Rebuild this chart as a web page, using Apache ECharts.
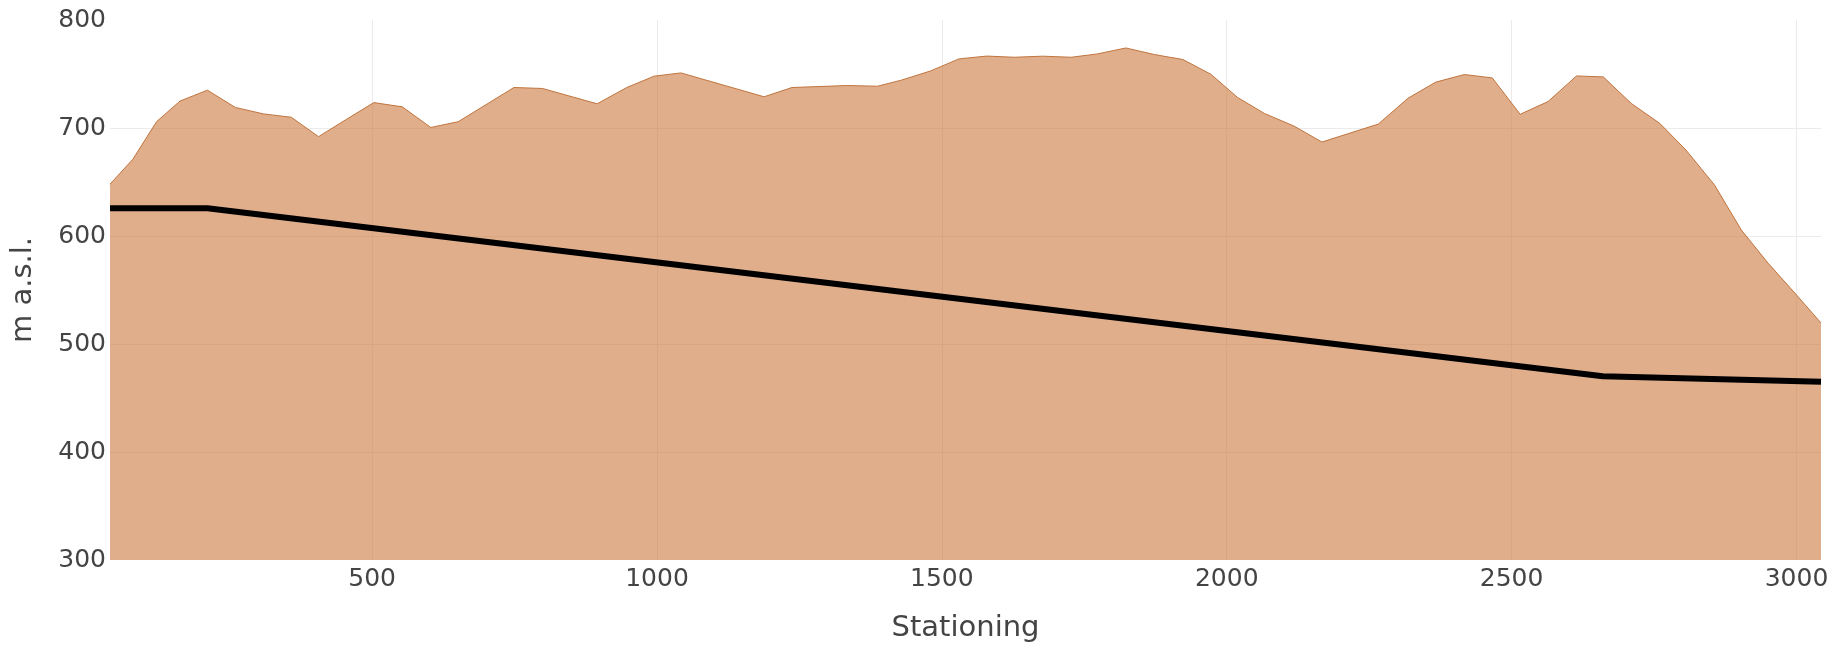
<!DOCTYPE html>
<html>
<head>
<meta charset="utf-8">
<script src="https://cdn.jsdelivr.net/npm/echarts@6/dist/echarts.min.js"></script>
<style>
html,body{margin:0;padding:0;background:#fff;}
#chart{width:1835px;height:648px;}
</style>
</head>
<body>
<div id="chart"></div>
<script>
// Terrain profile (stationing, m a.s.l.)
var terrainStations = [40, 80, 122, 163, 211, 260, 310, 358, 406, 455, 503, 553, 603, 651, 749, 799, 895, 947, 995, 1042, 1188, 1237, 1333, 1387, 1429, 1480, 1530, 1579, 1627, 1677, 1727, 1773, 1823, 1873, 1923, 1972, 2019, 2066, 2118, 2167, 2266, 2318, 2367, 2417, 2466, 2515, 2564, 2614, 2661, 2710, 2760, 2806, 2856, 2903, 2950, 2997, 3043];
var terrainElev = [648, 671, 706, 725, 735, 719, 713, 710, 692, 708, 723.5, 719.6, 700.5, 705.8, 737.5, 736.6, 722.4, 737.5, 748, 751, 728.9, 737.5, 739.3, 738.7, 744.3, 752.8, 764, 766.6, 765.5, 766.5, 765.5, 768.6, 774.1, 768, 763.4, 749.8, 728.3, 713.5, 701.8, 687, 703.6, 727.5, 742.5, 749.5, 746.4, 712.7, 724.5, 748.2, 747.3, 722.7, 704.3, 679.6, 647.3, 605.7, 574.9, 547.2, 519.5];
// Alignment line
var alignStations = [40, 211, 2660, 3043];
var alignElev = [625.7, 625.7, 470.1, 465];
// Axes
var xMin = 40, xMax = 3043;
var yMin = 300, yMax = 800, yStep = 100;
var xTitle = 'Stationing';
var yTitle = 'm a.s.l.';

function pairs(xs, ys){ return xs.map(function(x,i){ return [x, ys[i]]; }); }

var chart = echarts.init(document.getElementById('chart'), null, {renderer:'canvas'});
var font = 'DejaVu Sans';
var grid = '#ebebeb';
chart.setOption({
  animation: false,
  backgroundColor: '#fff',
  grid: {left: 110, top: 20, width: 1711, height: 541, containLabel: false},
  xAxis: {
    type: 'value', min: xMin, max: xMax, splitNumber: 6,
    name: xTitle, nameLocation: 'middle', nameGap: 54,
    nameTextStyle: {fontFamily: font, fontSize: 29, color: '#444'},
    axisLine: {show: false}, axisTick: {show: false},
    axisLabel: {fontFamily: font, fontSize: 25, color: '#444', margin: 7, showMinLabel: false, showMaxLabel: false,
      formatter: function(v){ return String(v); }},
    splitLine: {show: true, lineStyle: {color: ['rgba(0,0,0,0)', grid, grid, grid, grid, grid, grid, 'rgba(0,0,0,0)'], width: 1}}
  },
  yAxis: {
    type: 'value', min: yMin, max: yMax, interval: yStep,
    name: yTitle, nameLocation: 'middle', nameGap: 72,
    nameTextStyle: {fontFamily: font, fontSize: 29, color: '#444'},
    axisLine: {show: false}, axisTick: {show: false},
    axisLabel: {fontFamily: font, fontSize: 25, color: '#444', margin: 4,
      formatter: function(v){ return String(v); }},
    splitLine: {show: true, lineStyle: {color: ['rgba(0,0,0,0)', grid, grid, grid, grid, 'rgba(0,0,0,0)'], width: 1}}
  },
  series: [
    {
      type: 'line', data: pairs(terrainStations, terrainElev), symbol: 'none', z: 2,
      lineStyle: {color: '#c0743d', width: 1},
      areaStyle: {color: 'rgba(203,120,62,0.6)', origin: 'start', opacity: 1}
    },
    {
      type: 'line', data: pairs(alignStations, alignElev), symbol: 'none', z: 3,
      lineStyle: {color: '#000', width: 6}
    }
  ]
});
</script>
</body>
</html>
